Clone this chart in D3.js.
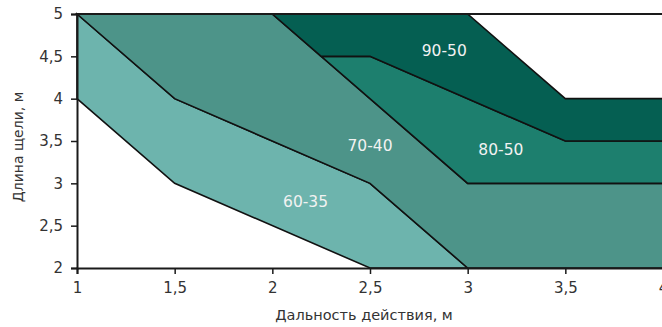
<!DOCTYPE html>
<html><head><meta charset="utf-8">
<script src="https://cdn.jsdelivr.net/npm/d3@7"></script>
<style>body{margin:0;background:#fff}svg{display:block}</style>
</head><body>
<svg id="c" width="662" height="327"></svg>
<script>
const xTicks = [1, 1.5, 2, 2.5, 3, 3.5, 4];
const yTicks = [2, 2.5, 3, 3.5, 4, 4.5, 5];
const regionNames = ["60-35", "70-40", "80-50", "90-50"];
const region6035 = [[1,4],[1.5,3],[2.5,2],[3,2],[2.5,3],[1.5,4],[1,5]];
const region7040 = [[1,5],[1.5,4],[2.5,3],[3,2],[4,2],[4,3],[3,3],[2,5]];
const region8050 = [[2.25,4.5],[2.5,4.5],[3.5,3.5],[4,3.5],[4,3],[3,3]];
const region9050 = [[2,5],[3,5],[3.5,4],[4,4],[4,3.5],[3.5,3.5],[2.5,4.5],[2.25,4.5]];
const labelX = [2.17, 2.5, 3.17, 2.88];
const labelY = [2.78, 3.44, 3.39, 4.56];
const colors = ["#6db4ad", "#4d9489", "#1d7f6e", "#055f52"];

const svg = d3.select("#c");
const font = "'DejaVu Sans', Verdana, sans-serif";
const x = d3.scaleLinear().domain([1, 4]).range([77, 663]);
const y = d3.scaleLinear().domain([2, 5]).range([268, 14]);
const line = d3.line().x(d => x(d[0])).y(d => y(d[1]));

const regions = [region6035, region7040, region8050, region9050];
svg.append("g").selectAll("path").data(regions).join("path")
  .attr("d", d => line(d) + "Z")
  .attr("fill", (d, i) => colors[i])
  .attr("stroke", "#111").attr("stroke-width", 1.6).attr("stroke-linejoin", "miter");

// top frame line
svg.append("line").attr("x1", x(1)).attr("x2", x(4)).attr("y1", y(5)).attr("y2", y(5))
  .attr("stroke", "#1a1a1a").attr("stroke-width", 2);

const xAxis = svg.append("g").attr("transform", `translate(0,${y(2)})`)
  .call(d3.axisBottom(x).tickValues(xTicks).tickSize(6).tickPadding(8)
    .tickFormat(d => String(d).replace(".", ",")));
const yAxis = svg.append("g").attr("transform", `translate(${x(1)},0)`)
  .call(d3.axisLeft(y).tickValues(yTicks).tickSize(6).tickPadding(8)
    .tickFormat(d => String(d).replace(".", ",")));
[xAxis, yAxis].forEach(a => {
  a.select(".domain").attr("stroke", "#1a1a1a").attr("stroke-width", 2);
  a.selectAll(".tick line").attr("stroke", "#1a1a1a").attr("stroke-width", 1.5);
  a.selectAll("text").attr("fill", "#333").style("font-family", font).style("font-size", "15px");
});

svg.append("g").selectAll("text").data(regionNames).join("text")
  .attr("x", (d, i) => x(labelX[i])).attr("y", (d, i) => y(labelY[i]))
  .attr("text-anchor", "middle").attr("dominant-baseline", "central")
  .attr("fill", "#f2f2f2").style("font-family", font).style("font-size", "15.5px")
  .text(d => d);

svg.append("text").attr("x", 364).attr("y", 320).attr("text-anchor", "middle")
  .attr("fill", "#333").style("font-family", font).style("font-size", "14.5px")
  .text("Дальность действия, м");
svg.append("text").attr("transform", "translate(18,147) rotate(-90)")
  .attr("text-anchor", "middle").attr("dominant-baseline", "central")
  .attr("fill", "#333").style("font-family", font).style("font-size", "14px")
  .text("Длина щели, м");
</script>
</body></html>
